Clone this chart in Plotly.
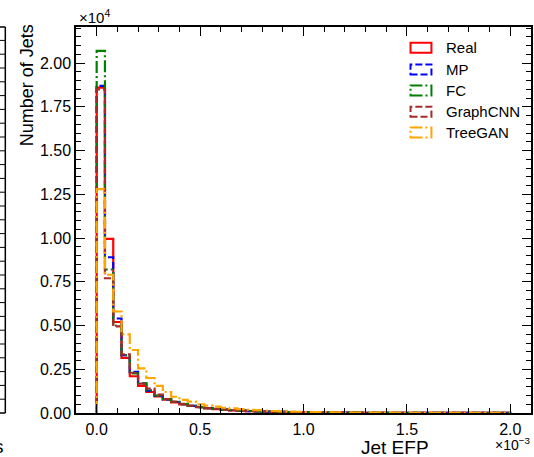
import plotly.graph_objects as go

# ---------------- data ----------------
bin_width = 0.00004
n_bins = 50
bin_edges = [round(i * bin_width, 8) for i in range(n_bins + 1)]

series_names = ["Real", "MP", "FC", "GraphCNN", "TreeGAN"]

real_counts = [18600, 9950, 5200, 3150, 2100, 1550, 1200, 950, 760, 610,
               490, 400, 330, 270, 225, 185, 155, 130, 110, 95,
               80, 68, 58, 50, 43, 37, 32, 28, 24, 21,
               18, 16, 14, 12, 11, 10, 9, 8, 7, 6,
               6, 5, 5, 4, 4, 4, 3, 3, 3, 3]
mp_counts = [18700, 8900, 5400, 3300, 2350, 1700, 1280, 980, 780, 630,
             500, 410, 335, 275, 228, 188, 158, 132, 112, 96,
             81, 69, 59, 51, 44, 38, 33, 29, 25, 22,
             19, 16, 14, 12, 11, 10, 9, 8, 7, 6,
             6, 5, 5, 4, 4, 4, 3, 3, 3, 3]
fc_counts = [20700, 8200, 5000, 3300, 2270, 1700, 1300, 1000, 790, 640,
             510, 415, 340, 280, 232, 192, 160, 134, 114, 97,
             83, 70, 60, 52, 45, 39, 34, 30, 26, 22,
             19, 17, 15, 13, 11, 10, 9, 8, 7, 6,
             6, 5, 5, 4, 4, 4, 3, 3, 3, 3]
graphcnn_counts = [18500, 7700, 4950, 3350, 2300, 1680, 1400, 1050, 800, 650,
                   520, 425, 345, 285, 235, 195, 162, 136, 115, 99,
                   84, 72, 61, 53, 46, 40, 35, 30, 26, 23,
                   20, 17, 15, 13, 12, 10, 9, 8, 7, 6,
                   6, 5, 5, 4, 4, 4, 3, 3, 3, 3]
treegan_counts = [12800, 7900, 5800, 4500, 3600, 2550, 2000, 1550, 1200, 930,
                  750, 650, 500, 420, 360, 300, 260, 220, 185, 160,
                  135, 115, 98, 84, 72, 62, 53, 46, 40, 35,
                  30, 26, 23, 20, 18, 16, 14, 12, 11, 10,
                  9, 8, 7, 6, 6, 5, 5, 4, 4, 4]

x_tick_vals = [0.0, 0.0005, 0.001, 0.0015, 0.002]
x_tick_text = ["0.0", "0.5", "1.0", "1.5", "2.0"]
y_tick_vals = [0, 2500, 5000, 7500, 10000, 12500, 15000, 17500, 20000]
y_tick_text = ["0.00", "0.25", "0.50", "0.75", "1.00", "1.25", "1.50", "1.75", "2.00"]

all_counts = [real_counts, mp_counts, fc_counts, graphcnn_counts, treegan_counts]
colors = ["#ff0000", "#0000ff", "#008000", "#a52a2a", "#ffa500"]
dashes = ["solid", "7px,3px", "12px,3px,2px,3px", "7px,3px", "12px,3px,2px,3px"]

FONT = "Liberation Sans, Arial, Helvetica, sans-serif"

# pixel geometry helpers (figure 534x457)
W, H = 534, 457
ML, MR, MT, MB = 76, 1, 27, 44
PW, PH = W - ML - MR, H - MT - MB


def px(xp):
    return (xp - ML) / PW


def py(yp):
    return (H - MB - yp) / PH


fig = go.Figure()
for name, counts, color, dash in zip(series_names, all_counts, colors, dashes):
    xs = [bin_edges[0]] + bin_edges[:-1] + [bin_edges[-1]]
    ys = [0] + counts + [0]
    fig.add_trace(go.Scatter(
        x=xs, y=ys, mode="lines", name=name,
        line=dict(shape="hv", color=color, width=2.2, dash=dash),
        showlegend=False, hoverinfo="skip",
    ))

shapes = []
annotations = []

# manual legend (rectangles like matplotlib step-hist legend)
row_centers = [47.7, 69.5, 90.5, 111.7, 132.5]
for name, color, dash, yc in zip(series_names, colors, dashes, row_centers):
    shapes.append(dict(type="rect", xref="paper", yref="paper",
                       x0=px(412), x1=px(433), y0=py(yc + 5), y1=py(yc - 5),
                       line=dict(color=color, width=2, dash=dash),
                       fillcolor="rgba(0,0,0,0)"))
    annotations.append(dict(text=name, xref="paper", yref="paper",
                            x=px(446), y=py(yc), xanchor="left", yanchor="middle",
                            showarrow=False, font=dict(size=15, color="black", family=FONT)))

# exponent labels
annotations.append(dict(text="×10<sup>4</sup>", xref="paper", yref="paper",
                        x=px(77), y=py(17), xanchor="left", yanchor="middle",
                        showarrow=False, font=dict(size=15, color="black", family=FONT)))
annotations.append(dict(text="×10<sup>−3</sup>", xref="paper", yref="paper",
                        x=px(534), y=py(444), xanchor="right", yanchor="middle",
                        showarrow=False, font=dict(size=14, color="black", family=FONT)))
# axis titles
annotations.append(dict(text="Jet EFP", xref="paper", yref="paper",
                        x=px(396), y=py(447.5), xanchor="center", yanchor="middle",
                        showarrow=False, font=dict(size=19, color="black", family=FONT)))
annotations.append(dict(text="Number of Jets", xref="paper", yref="paper",
                        x=px(27), y=py(22), xanchor="center", yanchor="top", textangle=-90,
                        showarrow=False, font=dict(size=18, color="black", family=FONT)))

# remnant of neighbouring panel at the far left
shapes.append(dict(type="line", xref="paper", yref="paper",
                   x0=px(5), x1=px(5), y0=py(27), y1=py(413),
                   line=dict(color="black", width=1.5)))
shapes.append(dict(type="line", xref="paper", yref="paper",
                   x0=px(-2), x1=px(5), y0=py(27), y1=py(27),
                   line=dict(color="black", width=1.5)))
shapes.append(dict(type="line", xref="paper", yref="paper",
                   x0=px(-2), x1=px(5), y0=py(413), y1=py(413),
                   line=dict(color="black", width=1.5)))
for k in range(1, 29):
    yy = 413 - k * 13.8
    if yy <= 28:
        break
    shapes.append(dict(type="line", xref="paper", yref="paper",
                       x0=px(-2), x1=px(5), y0=py(yy), y1=py(yy),
                       line=dict(color="black", width=1)))
annotations.append(dict(text="s", xref="paper", yref="paper",
                        x=px(6), y=py(446), xanchor="right", yanchor="middle",
                        showarrow=False, font=dict(size=19, color="black", family=FONT)))

axis_common = dict(
    showgrid=False, zeroline=False, showline=True, linecolor="black", linewidth=1.5,
    ticks="inside", ticklen=9, tickwidth=1.2, tickcolor="black", mirror="allticks",
    tickfont=dict(size=16, color="black", family=FONT),
)

fig.update_layout(
    width=W, height=H,
    margin=dict(l=ML, r=MR, t=MT, b=MB),
    paper_bgcolor="white", plot_bgcolor="white",
    shapes=shapes, annotations=annotations,
    xaxis=dict(range=[-0.0001, 0.0021], tickvals=x_tick_vals, ticktext=x_tick_text,
               ticklabelstandoff=1,
               minor=dict(ticks="inside", ticklen=5, dtick=0.0001, tick0=0,
                          tickwidth=1, tickcolor="black"),
               **axis_common),
    yaxis=dict(range=[0, 22060], tickvals=y_tick_vals, ticktext=y_tick_text,
               minor=dict(ticks="inside", ticklen=5, dtick=500, tick0=0,
                          tickwidth=1, tickcolor="black"),
               **axis_common),
)

fig.write_html("out.html")
